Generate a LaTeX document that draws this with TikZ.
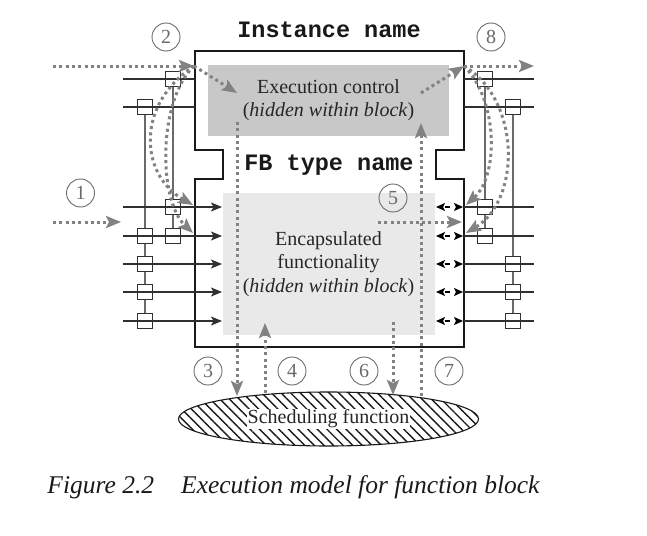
\documentclass[tikz,border=0pt]{standalone}
\usepackage{fontspec}
\setmainfont{Liberation Serif}
\setmonofont{Liberation Mono}
\usetikzlibrary{arrows.meta,shapes.geometric,patterns.meta}
\definecolor{ecgray}{HTML}{C8C8C8}
\definecolor{fgray}{HTML}{E9E9E9}
\definecolor{dotg}{HTML}{828282}
\definecolor{lineg}{HTML}{303030}
\definecolor{assocg}{HTML}{6A6A6A}
\begin{document}
\begin{tikzpicture}[x=1pt,y=-1pt,
  blk/.style={line width=2.8pt, draw=black!90, line join=miter},
  sig/.style={line width=1.3pt, draw=lineg},
  assoc/.style={line width=1.3pt, draw=assocg},
  wsq/.style={draw=lineg, line width=1.1pt, fill=white, minimum size=14.5pt, inner sep=0pt, shape=rectangle},
  inarr/.style={sig, -{Stealth[length=11pt,width=9pt,inset=2.5pt]}},
  bidir/.style={line width=1.3pt, draw=black, {Stealth[length=9pt,width=8pt,inset=2pt]}-{Stealth[length=9pt,width=8pt,inset=2pt]}, dash pattern=on 0pt off 2pt on 5pt off 20pt},
  evtn/.style={line width=3pt, draw=dotg, dash pattern=on 3pt off 3.3pt},
  evt/.style={evtn, -{Stealth[length=15pt,width=12pt,inset=3pt]}, color=dotg},
  numc/.style={circle, draw=assocg, line width=0.9pt, minimum size=28pt, inner sep=0pt, text=assocg, font=\fontsize{20}{20}\selectfont},
  lbl/.style={align=center, font=\fontsize{20}{23.5}\selectfont, text=black!85},
  ttl/.style={font=\fontsize{23.5}{24}\selectfont\ttfamily\bfseries, text=black!90}
]
\useasboundingbox (0,0) rectangle (647,535);

% gray areas
\fill[ecgray] (208,65) rectangle (449,136);
\fill[fgray] (223,193) rectangle (435,335);

% block outline
\draw[blk] (195,51) -- (464,51) -- (464,150) -- (436,150) -- (436,179) -- (464,179)
  -- (464,347) -- (195,347) -- (195,179) -- (223,179) -- (223,150) -- (195,150) -- cycle;

% titles and texts
\node[ttl] (inst) at (329,30) {Instance name};
\node[ttl] (fbt) at (329,165) {FB type name};
\node[lbl] (ectext) at (328.5,100) {Execution control\\(\textit{hidden within block})};
\node[lbl] (fntext) at (328.5,264) {Encapsulated\\functionality\\(\textit{hidden within block})};

% association verticals
\draw[assoc] (173,79) -- (173,236);
\draw[assoc] (145,107) -- (145,321);
\draw[assoc] (485,79) -- (485,236);
\draw[assoc] (513,107) -- (513,321);

% squares
\foreach \n/\x/\y in {a/173/79, b/145/107, c/173/207, d/145/236, e/173/236, f/145/264, g/145/292, h/145/321,
                     i/485/79, j/513/107, k/485/207, l/485/236, m/513/264, n/513/292, o/513/321}
  \node[wsq] (sq\n) at (\x,\y) {};

% left lines
\draw[sig] (123,79) -- (195,79);
\draw[sig] (123,107) -- (195,107);
\foreach \y in {207,236,264,292,321}
  \draw[inarr] (123,\y) -- (222,\y);

% right lines
\draw[sig] (464,79) -- (534,79);
\draw[sig] (464,107) -- (534,107);
\foreach \y in {207,236,264,292,321}{
  \draw[sig] (464,\y) -- (534,\y);
  \draw[bidir] (436,\y) -- (463,\y);
}

% numbered circles
\node[numc] (n1) at (80.5,193) {1};
\node[numc] (n2) at (166,37) {2};
\node[numc] (n3) at (208,371) {3};
\node[numc] (n4) at (292,371) {4};
\node[numc] (n5) at (393,198) {5};
\node[numc] (n6) at (364,371) {6};
\node[numc] (n7) at (449,371) {7};
\node[numc] (n8) at (491,37) {8};

% scheduling function
\node[ellipse, draw=black!90, line width=1.1pt, minimum width=300pt, minimum height=54pt,
  pattern={Lines[angle=-45,distance=6.8pt,line width=1.4pt]}, pattern color=black!90] (sched) at (328.5,419) {};
\node[lbl, fill=white, inner sep=1pt] (schedtxt) at (sched.center) {Scheduling function};

% event flow coordinates
\coordinate (lin) at (53,66);
\coordinate (lcorner) at (194,66);
\coordinate (rcorner) at (464,66);
\coordinate (rout) at (534,66);
\coordinate (ecin) at (237,93);
\coordinate (ecout) at (421,93);
\coordinate (l1a) at (193,205);
\coordinate (l1b) at (193,233);
\coordinate (r1a) at (466,205);
\coordinate (r1b) at (466,233);
\coordinate (in1s) at (53,222);
\coordinate (in1e) at (121,222);
\coordinate (o5s) at (378,222);
\coordinate (o5e) at (462,222);
\coordinate (d3s) at (237,122);
\coordinate (d3e) at (237,396);
\coordinate (d4s) at (265,393);
\coordinate (d4e) at (265,323);
\coordinate (d6s) at (393,322);
\coordinate (d6e) at (393,395);
\coordinate (d7s) at (421,396);
\coordinate (d7e) at (421,123);

% event flows
\draw[evt] (lin) -- (lcorner);
\draw[evt] (lcorner) -- (ecin);
\draw[evt] (lcorner) .. controls (135,105) and (140,175) .. (l1a);
\draw[evt] (lcorner) .. controls (158,100) and (158,200) .. (l1b);
\draw[evt] (ecout) -- (rcorner);
\draw[evt] (rcorner) -- (rout);
\draw[evt] (rcorner) .. controls (498,100) and (499,175) .. (r1a);
\draw[evt] (rcorner) .. controls (521,100) and (521,200) .. (r1b);
\draw[evt] (in1s) -- (in1e);
\draw[evt] (o5s) -- (o5e);
\draw[evt] (d3s) -- (d3e);
\draw[evt] (d4s) -- (d4e);
\draw[evt] (d6s) -- (d6e);
\draw[evt] (d7s) -- (d7e);

% caption
\node[font=\fontsize{25.5}{27}\selectfont\itshape, text=black!90] (cap) at (293.5,487)
  {Figure 2.2\hspace{27pt}Execution model for function block};
\end{tikzpicture}
\end{document}
